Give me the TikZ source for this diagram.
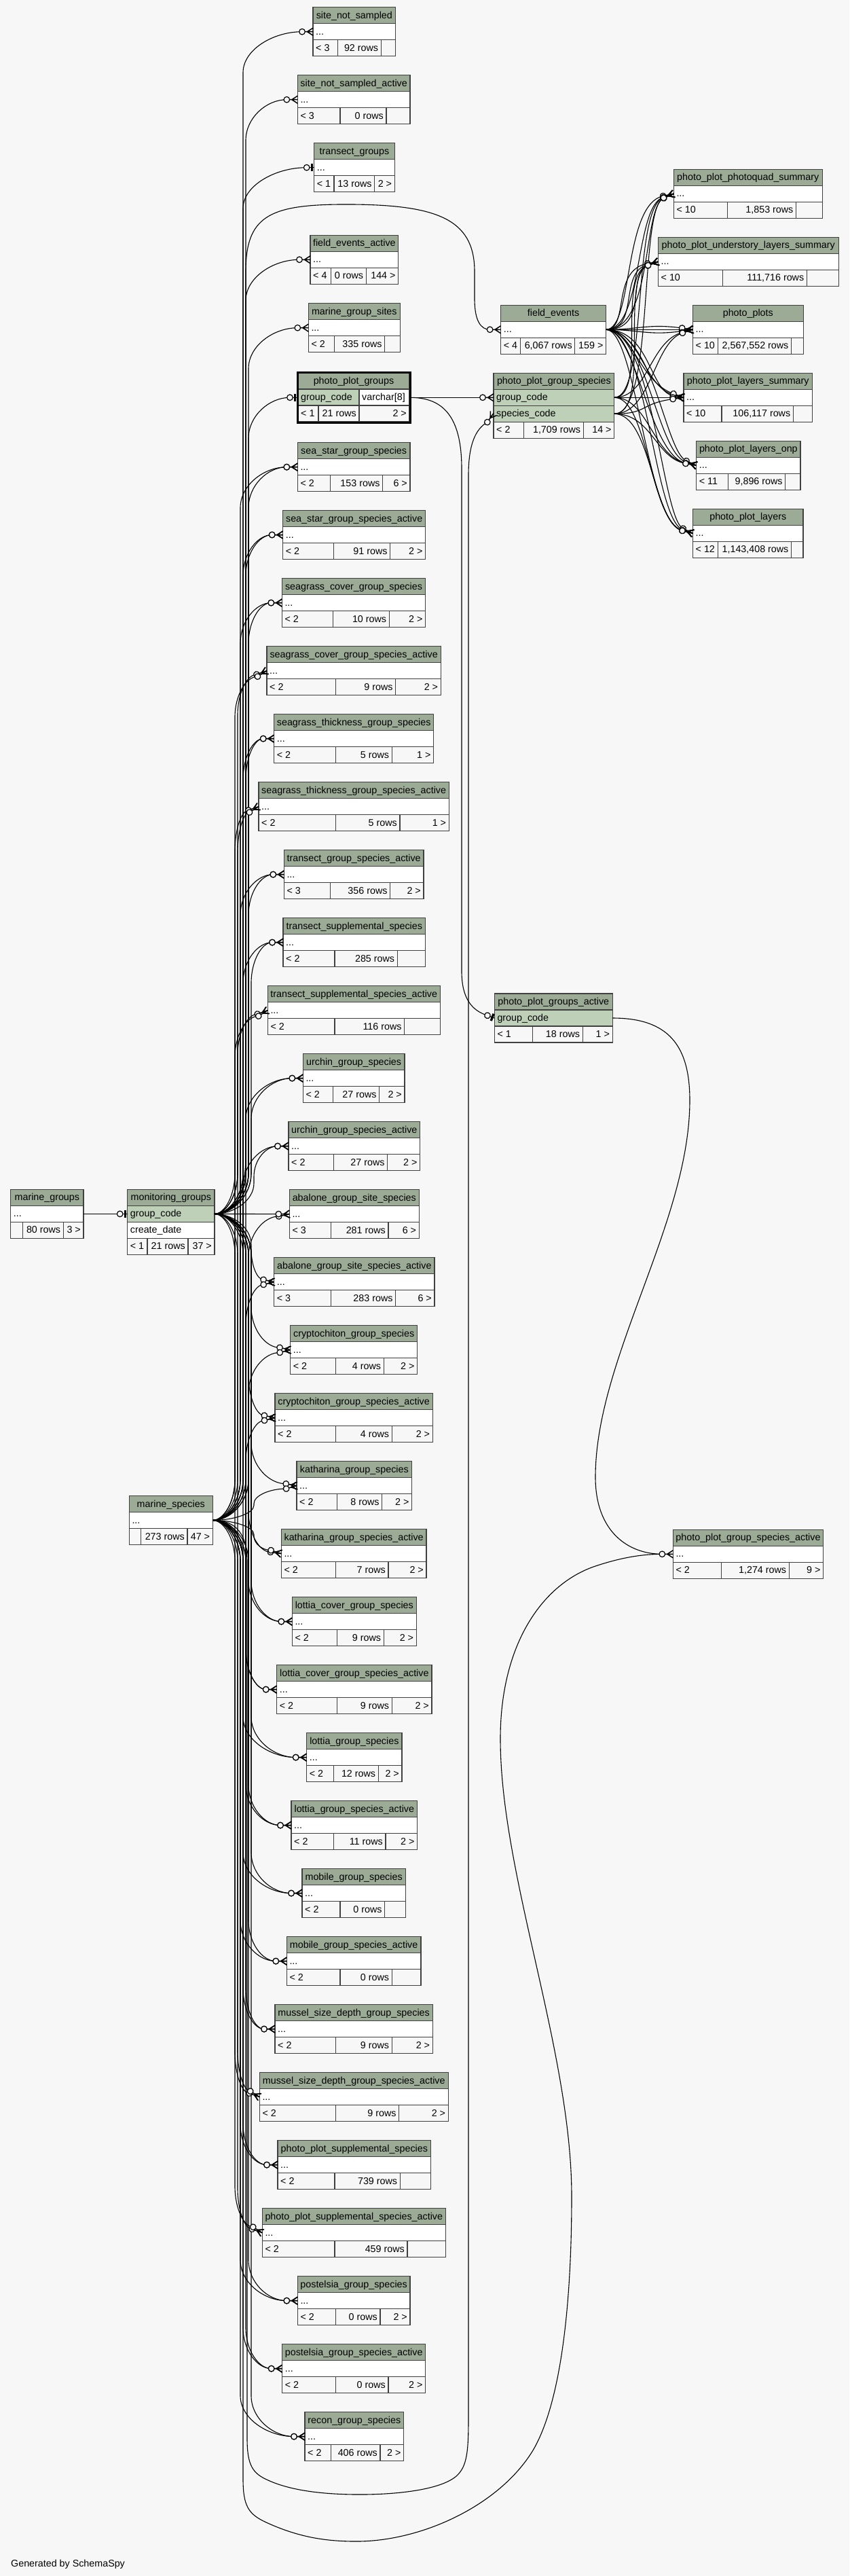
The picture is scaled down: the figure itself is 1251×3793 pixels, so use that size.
\documentclass[tikz,border=0pt]{standalone}
\usepackage{fontspec}
\setmainfont{Liberation Sans}
\usetikzlibrary{calc}

\definecolor{hdr}{HTML}{9BAB96}
\definecolor{keyrow}{HTML}{BED1B8}
\definecolor{bg}{HTML}{F7F7F7}

\tikzset{
  tblline/.style={draw=black!75, line width=1.1pt},
  cell/.style={inner xsep=4pt, inner ysep=0pt, font=\fontsize{14.3}{17}\selectfont},
  fk/.style={draw=black, line width=1.1pt},
  crowfoot/.pic={
    \draw[line width=1.5pt] (-11.7,0) -- (0,0) (0,-5.5) -- (-8.5,0) -- (0,5.5);
    \draw[line width=1.2pt, fill=bg] (-16,0) circle[radius=4.3pt];
  },
  zeroone/.pic={
    \draw[line width=1.2pt] (-7,0) -- (0,0);
    \fill (-5,-5.5) rectangle (-1.7,5.5);
    \draw[line width=1.2pt, fill=bg] (-11,0) circle[radius=4.3pt];
  },
}

% name, left, right, top, footer splits, footer texts
\newcommand{\dbtable}[9]{%
  \draw[tblline,fill=hdr] (#2,#4) rectangle (#3,#4+24);
  \draw[tblline,fill=white] (#2,#4+24) rectangle (#3,#4+48);
  \draw[tblline,fill=bg] (#2,#4+48) rectangle (#3,#4+72);
  \draw[tblline] (#5,#4+48) -- (#5,#4+72) (#6,#4+48) -- (#6,#4+72);
  \node[cell,anchor=base] (#1) at ({(#2+#3)/2},#4+16.5) {\detokenize{#1}};
  \node[cell,anchor=base west] at (#2,#4+40.5) {...};
  \node[cell,anchor=base west] at (#2,#4+64.5) {#7};
  \node[cell,anchor=base east] at (#6,#4+64.5) {#8};
  \node[cell,anchor=base east] at (#3,#4+64.5) {#9};
  \coordinate (#1-in) at (#2,#4+36);
  \coordinate (#1-out) at (#3,#4+36);
}

% source, end, bundle column, bend (negative: going up)
\newcommand{\hook}[4]{%
  \draw[fk] (#1) .. controls ($(#1)!.5!(#1 -| #3)$) and ($(#1 -| #3)+(0,{0.45*(#4)})$) .. ($(#1 -| #3)+(0,{#4})$)
    -- ($(#2 -| #3)+(0,{-1*(#4)})$) .. controls ($(#2 -| #3)+(0,{-0.45*(#4)})$) and ($(#2)!.5!(#2 -| #3)$) .. (#2);
}

% children of monitoring_groups: table/bundle/angle/bend
\newcommand{\mglist}{%
site_not_sampled/b4/0/-60,
site_not_sampled_active/b5/0/-60,
field_events_active/b5/0/-60,
marine_group_sites/b6/0/-60,
sea_star_group_species/b6/0/-60,
sea_star_group_species_active/b5/0/-60,
seagrass_cover_group_species/b6/0/-60,
seagrass_cover_group_species_active/b2/20/-60,
seagrass_thickness_group_species/b5/0/-60,
seagrass_thickness_group_species_active/b1/20/-60,
transect_group_species_active/b6/0/-60,
transect_supplemental_species/b7/0/-60,
transect_supplemental_species_active/b2/20/-60,
urchin_group_species/b7/0/-60,
urchin_group_species_active/b8/0/-45,
abalone_group_site_species_active/b7/-12/45,
cryptochiton_group_species/b7/-12/60,
cryptochiton_group_species_active/b6/-12/60,
katharina_group_species/b7/-10/60,
katharina_group_species_active/b6/-8/60,
lottia_cover_group_species/b7/0/60,
lottia_cover_group_species_active/b5/0/60,
lottia_group_species/b7/0/60,
lottia_group_species_active/b6/0/60,
mobile_group_species/b7/0/60,
mobile_group_species_active/b6/0/60,
mussel_size_depth_group_species/b5/0/60,
mussel_size_depth_group_species_active/b1/-20/60,
photo_plot_supplemental_species/b4/0/60,
photo_plot_supplemental_species_active/b2/-20/60,
postelsia_group_species/b6/0/60,
postelsia_group_species_active/b5/0/60,
recon_group_species/b7/0/60}

% children of marine_species
\newcommand{\mslist}{%
sea_star_group_species/b3/0/-60,
sea_star_group_species_active/b4/0/-60,
seagrass_cover_group_species/b3/0/-60,
seagrass_cover_group_species_active/b1/32/-60,
seagrass_thickness_group_species/b4/0/-60,
seagrass_thickness_group_species_active/b2/32/-60,
transect_group_species_active/b3/0/-60,
transect_supplemental_species/b4/0/-60,
transect_supplemental_species_active/b1/32/-60,
urchin_group_species/b5/0/-60,
urchin_group_species_active/b4/0/-60,
abalone_group_site_species/b6/12/-60,
abalone_group_site_species_active/b5/14/-60,
cryptochiton_group_species/b6/14/-60,
cryptochiton_group_species_active/b5/14/-60,
katharina_group_species/b8/16/-22,
katharina_group_species_active/b8/-18/21,
lottia_cover_group_species/b6/0/60,
lottia_cover_group_species_active/b5/0/60,
lottia_group_species/b4/0/60,
lottia_group_species_active/b5/0/60,
mobile_group_species/b4/0/60,
mobile_group_species_active/b3/0/60,
mussel_size_depth_group_species/b4/0/60,
mussel_size_depth_group_species_active/b2/-32/60,
photo_plot_supplemental_species/b3/0/60,
photo_plot_supplemental_species_active/b1/-32/60,
postelsia_group_species/b3/0/60,
postelsia_group_species_active/b4/0/60,
recon_group_species/b3/0/60}

% photo plot children: source/table/angle/out/in
\newcommand{\rightlist}{%
field_events/photo_plot_photoquad_summary/18/55/45,
field_events/photo_plot_photoquad_summary/12/40/60,
field_events/photo_plot_photoquad_summary/24/70/35,
pps-gc/photo_plot_photoquad_summary/20/50/50,
pps-sc/photo_plot_photoquad_summary/22/60/40,
field_events/photo_plot_understory_layers_summary/15/50/45,
field_events/photo_plot_understory_layers_summary/10/35/55,
field_events/photo_plot_understory_layers_summary/20/65/35,
pps-gc/photo_plot_understory_layers_summary/18/50/50,
pps-sc/photo_plot_understory_layers_summary/20/55/45,
field_events/photo_plots/0/40/40,
field_events/photo_plots/8/50/50,
field_events/photo_plots/-8/50/50,
pps-gc/photo_plots/15/50/50,
pps-sc/photo_plots/18/55/45,
field_events/photo_plot_layers_summary/-15/50/45,
field_events/photo_plot_layers_summary/-10/65/35,
field_events/photo_plot_layers_summary/-20/40/55,
pps-gc/photo_plot_layers_summary/0/40/40,
pps-sc/photo_plot_layers_summary/8/50/50,
field_events/photo_plot_layers_onp/-18/60/45,
field_events/photo_plot_layers_onp/-12/45/55,
field_events/photo_plot_layers_onp/-24/70/35,
pps-gc/photo_plot_layers_onp/-12/50/50,
pps-sc/photo_plot_layers_onp/-10/55/45,
field_events/photo_plot_layers/-20/60/45,
field_events/photo_plot_layers/-14/45/55,
field_events/photo_plot_layers/-26/70/35,
pps-gc/photo_plot_layers/-16/50/50,
pps-sc/photo_plot_layers/-14/55/45}

\begin{document}
\begin{tikzpicture}[x=1pt,y=-1pt]
\useasboundingbox (0,0) rectangle (1251,3793);
\fill[bg] (0,0) rectangle (1251,3793);

% bundle columns
\foreach \i/\x in {1/346,2/350,3/354,4/358,5/362,6/366,7/370,8/374}
  \coordinate (b\i) at (\x,0);

% middle column
\dbtable{site_not_sampled}{461}{582.7}{10.7}{497.3}{561.3}{< 3}{92 rows}{}
\dbtable{site_not_sampled_active}{438.3}{604}{110.7}{501}{569}{< 3}{0 rows}{}
\dbtable{transect_groups}{462.7}{581.3}{210.7}{492}{551.7}{< 1}{13 rows}{2 >}
\dbtable{field_events_active}{457}{586.7}{346.3}{487.7}{539.3}{< 4}{0 rows}{144 >}
\dbtable{marine_group_sites}{454.3}{589.3}{446.7}{492.7}{566.7}{< 2}{335 rows}{}
\dbtable{sea_star_group_species}{438.3}{604}{651.7}{486.7}{563.7}{< 2}{153 rows}{6 >}
\dbtable{sea_star_group_species_active}{416.7}{626.7}{751.5}{491.7}{574.7}{< 2}{91 rows}{2 >}
\dbtable{seagrass_cover_group_species}{415.3}{626.7}{851.6}{490.7}{573.3}{< 2}{10 rows}{2 >}
\dbtable{seagrass_cover_group_species_active}{393}{649.3}{951.6}{494.3}{582.7}{< 2}{9 rows}{2 >}
\dbtable{seagrass_thickness_group_species}{403.7}{638.7}{1051.6}{494.3}{577.3}{< 2}{5 rows}{1 >}
\dbtable{seagrass_thickness_group_species_active}{381}{661.3}{1151.6}{494.3}{589}{< 2}{5 rows}{1 >}
\dbtable{transect_group_species_active}{418.3}{624}{1251.6}{486.7}{574.7}{< 3}{356 rows}{2 >}
\dbtable{transect_supplemental_species}{417}{626.7}{1351.6}{493}{585.3}{< 2}{285 rows}{}
\dbtable{transect_supplemental_species_active}{394.3}{648.3}{1451.6}{493}{595.7}{< 2}{116 rows}{}
\dbtable{urchin_group_species}{446.3}{596}{1551.6}{490.3}{558.7}{< 2}{27 rows}{2 >}
\dbtable{urchin_group_species_active}{425}{618.7}{1651.6}{491.7}{570.7}{< 2}{27 rows}{2 >}
\dbtable{abalone_group_site_species}{426.3}{617.3}{1751.6}{487.7}{572}{< 3}{281 rows}{6 >}
\dbtable{abalone_group_site_species_active}{403.7}{640}{1851.6}{487.7}{582.7}{< 3}{283 rows}{6 >}
\dbtable{cryptochiton_group_species}{427.7}{614.7}{1951.6}{494.3}{565.3}{< 2}{4 rows}{2 >}
\dbtable{cryptochiton_group_species_active}{405}{637.3}{2051.6}{494.3}{577.3}{< 2}{4 rows}{2 >}
\dbtable{katharina_group_species}{437}{606.7}{2151.6}{496.3}{562.7}{< 2}{8 rows}{2 >}
\dbtable{katharina_group_species_active}{414.3}{628}{2251.6}{494.3}{572}{< 2}{7 rows}{2 >}
\dbtable{lottia_cover_group_species}{430.3}{613.3}{2351.6}{496.3}{565.3}{< 2}{9 rows}{2 >}
\dbtable{lottia_cover_group_species_active}{407.7}{636}{2451.6}{496.3}{577.3}{< 2}{9 rows}{2 >}
\dbtable{lottia_group_species}{451.7}{592}{2551.6}{491.7}{557.3}{< 2}{12 rows}{2 >}
\dbtable{lottia_group_species_active}{429}{614.7}{2651.6}{491.7}{568}{< 2}{11 rows}{2 >}
\dbtable{mobile_group_species}{445}{597.3}{2751.6}{501}{566.7}{< 2}{0 rows}{}
\dbtable{mobile_group_species_active}{422.3}{620}{2851.6}{501}{577.3}{< 2}{0 rows}{}
\dbtable{mussel_size_depth_group_species}{405}{637.3}{2951.6}{494.3}{577.3}{< 2}{9 rows}{2 >}
\dbtable{mussel_size_depth_group_species_active}{382.3}{660.3}{3051.6}{494.3}{587.7}{< 2}{9 rows}{2 >}
\dbtable{photo_plot_supplemental_species}{409}{634.7}{3151.6}{493}{589.3}{< 2}{739 rows}{}
\dbtable{photo_plot_supplemental_species_active}{386.3}{656.3}{3251.6}{493}{600}{< 2}{459 rows}{}
\dbtable{postelsia_group_species}{438.3}{604}{3351.6}{494.3}{560}{< 2}{0 rows}{2 >}
\dbtable{postelsia_group_species_active}{415.7}{626.7}{3451.6}{494.3}{572}{< 2}{0 rows}{2 >}
\dbtable{recon_group_species}{449}{594.7}{3551.6}{487.7}{560}{< 2}{406 rows}{2 >}

% focus table
\draw[tblline,fill=hdr] (439,549) rectangle (603,573);
\draw[tblline,fill=keyrow] (439,573) rectangle (529,597);
\draw[tblline,fill=white] (529,573) rectangle (603,597);
\draw[tblline,fill=bg] (439,597) rectangle (603,621);
\draw[tblline] (469,597) -- (469,621) (529,597) -- (529,621);
\draw[line width=3pt] (438,548) rectangle (604,622);
\node[cell,anchor=base] (photo_plot_groups) at (521,565.5) {photo\_plot\_groups};
\node[cell,anchor=base west] at (439,589.5) {group\_code};
\node[cell,anchor=base west] at (529,589.5) {varchar[8]};
\node[cell,anchor=base west] at (439,613.5) {< 1};
\node[cell,anchor=base east] at (529,613.5) {21 rows};
\node[cell,anchor=base east] at (603,613.5) {2 >};
\coordinate (photo_plot_groups-in) at (438,585.3);
\coordinate (pg-out) at (604,585.3);

% right side
\dbtable{field_events}{737.6}{892.6}{449.3}{766.8}{846.9}{< 4}{6,067 rows}{159 >}
\dbtable{photo_plot_photoquad_summary}{992.3}{1211.2}{249.3}{1071.1}{1172.6}{< 10}{1,853 rows}{}
\dbtable{photo_plot_understory_layers_summary}{969.5}{1235.1}{349.3}{1064.7}{1188.4}{< 10}{111,716 rows}{}
\dbtable{photo_plots}{1020.5}{1183.1}{449.3}{1057.7}{1165.6}{< 10}{2,567,552 rows}{}
\dbtable{photo_plot_layers_summary}{1007}{1196.5}{549.3}{1063}{1168.4}{< 10}{106,117 rows}{}
\dbtable{photo_plot_layers_onp}{1025.7}{1179}{649.3}{1072.1}{1156.8}{< 11}{9,896 rows}{}
\dbtable{photo_plot_layers}{1020.5}{1183}{749.3}{1057.7}{1165.6}{< 12}{1,143,408 rows}{}
\dbtable{photo_plot_group_species_active}{991.3}{1212.7}{2252.3}{1062.1}{1162.3}{< 2}{1,274 rows}{9 >}

\draw[tblline,fill=hdr] (727,549.3) rectangle (904.8,573.3);
\draw[tblline,fill=keyrow] (727,573.3) rectangle (904.8,597.3);
\draw[tblline,fill=keyrow] (727,597.3) rectangle (904.8,621.3);
\draw[tblline,fill=bg] (727,621.3) rectangle (904.8,645.3);
\draw[tblline] (771.3,621.3) -- (771.3,645.3) (859.2,621.3) -- (859.2,645.3);
\node[cell,anchor=base] (photo_plot_group_species) at (815.9,565.8) {photo\_plot\_group\_species};
\node[cell,anchor=base west] at (727,589.8) {group\_code};
\node[cell,anchor=base west] at (727,613.8) {species\_code};
\node[cell,anchor=base west] at (727,637.8) {< 2};
\node[cell,anchor=base east] at (859.2,637.8) {1,709 rows};
\node[cell,anchor=base east] at (904.8,637.8) {14 >};
\coordinate (pps-gc-in) at (727,585.3);
\coordinate (pps-sc-in) at (727,608.5);
\coordinate (pps-gc-out) at (904.8,585.3);
\coordinate (pps-sc-out) at (904.8,609.3);

\draw[tblline,fill=hdr] (728.3,1463) rectangle (902.2,1487);
\draw[tblline,fill=keyrow] (728.3,1487) rectangle (902.2,1511);
\draw[tblline,fill=bg] (728.3,1511) rectangle (902.2,1535);
\draw[tblline] (784.8,1511) -- (784.8,1535) (858.2,1511) -- (858.2,1535);
\node[cell,anchor=base] (photo_plot_groups_active) at (815.3,1479.5) {photo\_plot\_groups\_active};
\node[cell,anchor=base west] at (728.3,1503.5) {group\_code};
\node[cell,anchor=base west] at (728.3,1527.5) {< 1};
\node[cell,anchor=base east] at (858.2,1527.5) {18 rows};
\node[cell,anchor=base east] at (902.2,1527.5) {1 >};
\coordinate (ppga-in) at (728.3,1499);
\coordinate (ppga-out) at (902.2,1499);

% left side
\dbtable{marine_groups}{15.7}{123}{1751.4}{33.3}{93.3}{}{80 rows}{3 >}
\dbtable{marine_species}{190.3}{313.3}{2202.5}{207.7}{276}{}{273 rows}{47 >}

\draw[tblline,fill=hdr] (187.7,1751.4) rectangle (316,1775.4);
\draw[tblline,fill=keyrow] (187.7,1775.4) rectangle (316,1799.4);
\draw[tblline,fill=white] (187.7,1799.4) rectangle (316,1823.4);
\draw[tblline,fill=bg] (187.7,1823.4) rectangle (316,1847.4);
\draw[tblline] (217,1823.4) -- (217,1847.4) (277,1823.4) -- (277,1847.4);
\node[cell,anchor=base] (monitoring_groups) at (251.9,1767.9) {monitoring\_groups};
\node[cell,anchor=base west] at (187.7,1791.9) {group\_code};
\node[cell,anchor=base west] at (187.7,1815.9) {create\_date};
\node[cell,anchor=base west] at (187.7,1839.9) {< 1};
\node[cell,anchor=base east] at (277,1839.9) {21 rows};
\node[cell,anchor=base east] at (316,1839.9) {37 >};
\coordinate (monitoring_groups-in) at (187.7,1787.4);
\coordinate (mg-out) at (316,1787.4);

% connectors from monitoring_groups and marine_species
\foreach \tb/\bx/\ang/\r in \mglist {
  \coordinate (e) at ($(\tb-in)+({180-(\ang)}:16)$);
  \hook{mg-out}{e}{\bx}{\r}
}
\foreach \tb/\bx/\ang/\r in \mslist {
  \coordinate (e) at ($(\tb-in)+({180-(\ang)}:16)$);
  \hook{marine_species-out}{e}{\bx}{\r}
}
\coordinate (tg-c) at ($(transect_groups-in)+(-11,0)$);
\coordinate (ppg-c) at ($(photo_plot_groups-in)+(-11,0)$);
\hook{mg-out}{tg-c}{b4}{-60}
\hook{mg-out}{ppg-c}{b6}{-60}
\draw[fk] (marine_groups-out) -- ($(monitoring_groups-in)+(-11,0)$);
\draw[fk] (mg-out) -- ($(abalone_group_site_species-in)+(-16,0)$);
\draw[fk] (mg-out) .. controls (340,1787.4) and (362,1770) .. (362,1700) -- (362,400)
  .. controls (362,320) and (395,302) .. (500,301) .. controls (640,300) and (699,320) .. (699,400)
  -- (699,440) .. controls (699,472) and (708,485.3) .. ($(field_events-in)+(-16,0)$);

% photo plot groups
\coordinate (pps-sc-c) at ($(pps-sc-in)+(125:16)$);
\coordinate (ppga-c) at ($(ppga-in)+(200:11)$);
\coordinate (ppgsa-c) at ($(photo_plot_group_species_active-in)+(-16,0)$);
\draw[fk] (pg-out) -- ($(pps-gc-in)+(-16,0)$);
\draw[fk] (pg-out) .. controls (650,585.3) and (680,610) .. (680,690) -- (680,1430)
  .. controls (680,1470) and (695,1488) .. (ppga-c);
\draw[fk] (ppga-out) .. controls (985,1499) and (1016,1540) .. (1016,1620)
  .. controls (1016,1800) and (877,2000) .. (877,2175)
  .. controls (877,2255) and (925,2288.3) .. (ppgsa-c);
\draw[fk] (marine_species-out) .. controls (340,2238.5) and (364,2250) .. (364,2300) -- (364,3590)
  .. controls (364,3630) and (372,3642) .. (395,3652) .. controls (430,3668) and (480,3673) .. (530,3673)
  .. controls (590,3673) and (650,3665) .. (672,3646) .. controls (688,3632) and (690,3610) .. (690,3560)
  -- (690,700) .. controls (690,655) and (700,632) .. (pps-sc-c);
\draw[fk] (marine_species-out) .. controls (335,2238.5) and (358,2250) .. (358,2300) -- (358,3650)
  .. controls (358,3690) and (366,3702) .. (392,3714) .. controls (440,3736) and (480,3742) .. (525,3742)
  .. controls (620,3742) and (735,3690) .. (785,3608) .. controls (825,3540) and (842,3400) .. (842,3234)
  .. controls (842,3020) and (737,2760) .. (737,2560) .. controls (737,2420) and (800,2330) .. (880,2305)
  .. controls (920,2292) and (950,2288.3) .. (ppgsa-c);

\foreach \src/\tb/\ang/\ca/\cb in \rightlist {
  \coordinate (e) at ($(\tb-in)+({180-(\ang)}:16)$);
  \draw[fk] (\src-out) .. controls +(\ca,0) and +({180-(\ang)}:\cb) .. (e);
}

% markers
\foreach \tb/\bx/\ang/\r in \mglist { \pic[rotate=\ang] at (\tb-in) {crowfoot}; }
\foreach \tb/\bx/\ang/\r in \mslist { \pic[rotate=\ang] at (\tb-in) {crowfoot}; }
\foreach \src/\tb/\ang/\ca/\cb in \rightlist { \pic[rotate=\ang] at (\tb-in) {crowfoot}; }
\pic at (abalone_group_site_species-in) {crowfoot};
\pic at (field_events-in) {crowfoot};
\pic at (pps-gc-in) {crowfoot};
\pic[rotate=55] at (pps-sc-in) {crowfoot};
\pic at (photo_plot_group_species_active-in) {crowfoot};
\pic at (monitoring_groups-in) {zeroone};
\pic at (transect_groups-in) {zeroone};
\pic at (photo_plot_groups-in) {zeroone};
\pic[rotate=-20] at (ppga-in) {zeroone};

\node[cell,anchor=base west] (credit) at (12,3779) {Generated by SchemaSpy};
\end{tikzpicture}
\end{document}
